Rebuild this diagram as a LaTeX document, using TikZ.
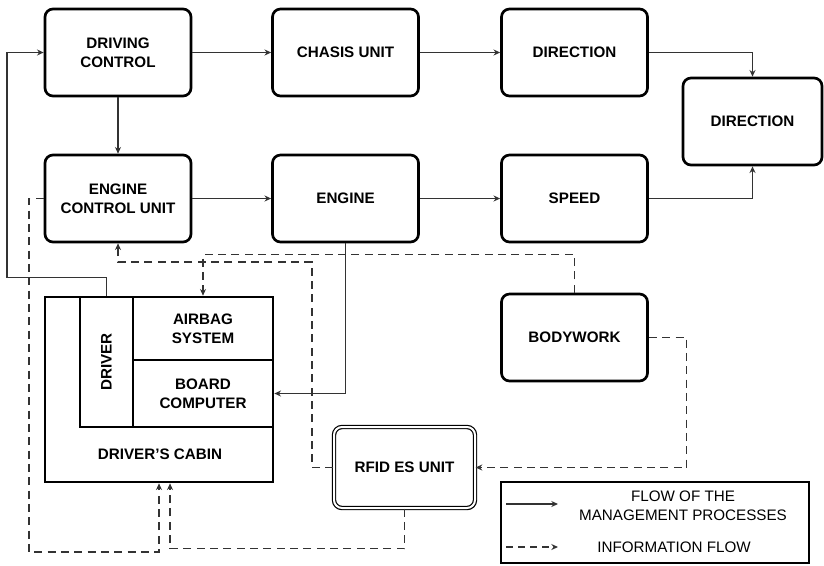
\documentclass[tikz,border=0pt]{standalone}
\usepackage{fontspec}
\setmainfont{Liberation Sans}
\usetikzlibrary{arrows.meta}

\tikzset{
    unit/.style={draw, line width=2pt, rounded corners=6pt, minimum width=109.5pt,
        minimum height=65.25pt, align=center, font=\bfseries\fontsize{11.4}{14}\selectfont},
    part/.style={draw, line width=2pt, inner sep=0pt, align=center,
        font=\bfseries\fontsize{11.4}{14}\selectfont},
    flow/.style={draw=black!80, line width=0.9pt, -{Stealth[length=5pt,width=4.5pt]}},
    info/.style={flow, dash pattern=on 6pt off 4pt},
}

\begin{document}
\begin{tikzpicture}[x=0.75pt, y=-0.75pt]
            \useasboundingbox (0,0) rectangle (824,565);

            % 上面两行的单元
            \node[unit] (dc) at (118,52.5) {DRIVING\\CONTROL};
            \node[unit] (cu) at (345.5,52.5) {CHASIS UNIT};
            \node[unit] (dir1) at (574.5,52.5) {DIRECTION};
            \node[unit, minimum width=104.25pt] (dir2) at (752.5,121.5) {DIRECTION};
            \node[unit] (ecu) at (118,198.5) {ENGINE\\CONTROL UNIT};
            \node[unit] (eng) at (345.5,198.5) {ENGINE};
            \node[unit] (spd) at (574.5,198.5) {SPEED};
            \node[unit] (bw) at (574.5,337.5) {BODYWORK};

            % 驾驶室 (外框 + 内部格子)
            \node[part, minimum width=171pt, minimum height=138.75pt] (cabin) at (159,389.5) {};
            \node[part, minimum width=97.5pt, minimum height=39.75pt, rotate=90] (drv) at (106.5,362) {DRIVER};
            \node[part, minimum width=105pt, minimum height=47.25pt] (ab) at (203,328.5) {AIRBAG\\SYSTEM};
            \node[part, minimum width=105pt, minimum height=50.25pt] (bc) at (203,393.5) {BOARD\\COMPUTER};
            \node[font=\bfseries\fontsize{11.4}{14}\selectfont] (cabt) at (160,454) {DRIVER'S CABIN};

            % RFID 单元 (双线框)
            \node[unit, double, line width=0.9pt, double distance=1.5pt, minimum width=105.75pt,
                minimum height=60.75pt] (rfid) at (404.5,467.5) {RFID ES UNIT};

            % 管理过程 (实线)
            \draw[flow] (dc) -- (cu);
            \draw[flow] (cu) -- (dir1);
            \draw[flow] (dc) -- (ecu);
            \draw[flow] (ecu) -- (eng);
            \draw[flow] (eng) -- (spd);
            \draw[flow] (dir1.east) -| (dir2.north);
            \draw[flow] (spd.east) -| (dir2.south);
            \draw[flow] (eng.south) |- (bc.east);
            \draw[flow] (drv.east) -- ++(0,-18) -| (7,52.5) -- (dc.west);

            % 信息流 (虚线)
            \draw[info] (ecu.west) -| (29,552) -| (cabin.south);
            \draw[info] (rfid.south) -- ++(0,40) -| ([xshift=8.25pt]cabin.south);
            \draw[info] (rfid.west) -| (312,262) -| (ecu.south);
            \draw[info] (bw.north) -- ++(0,-38) -| (ab.north);
            \draw[info] (bw.east) -- ++(38,0) |- (rfid.east);

            % 图例
            \node[draw, line width=2.2pt, minimum width=231pt, minimum height=60.75pt] (leg) at (655,522.5) {};
            \coordinate (l1) at (506,504);
            \coordinate (l2) at (558,504);
            \coordinate (l3) at (506,547);
            \coordinate (l4) at (558,547);
            \draw[flow] (l1) -- (l2);
            \draw[info, dash pattern=on 5pt off 4pt] (l3) -- (l4);
            \node[align=center, font=\fontsize{11.4}{14}\selectfont] (legt1) at (683,506) {FLOW OF THE\\MANAGEMENT PROCESSES};
            \node[font=\fontsize{11.4}{14}\selectfont] (legt2) at (674,547) {INFORMATION FLOW};

        \end{tikzpicture}
\end{document}
